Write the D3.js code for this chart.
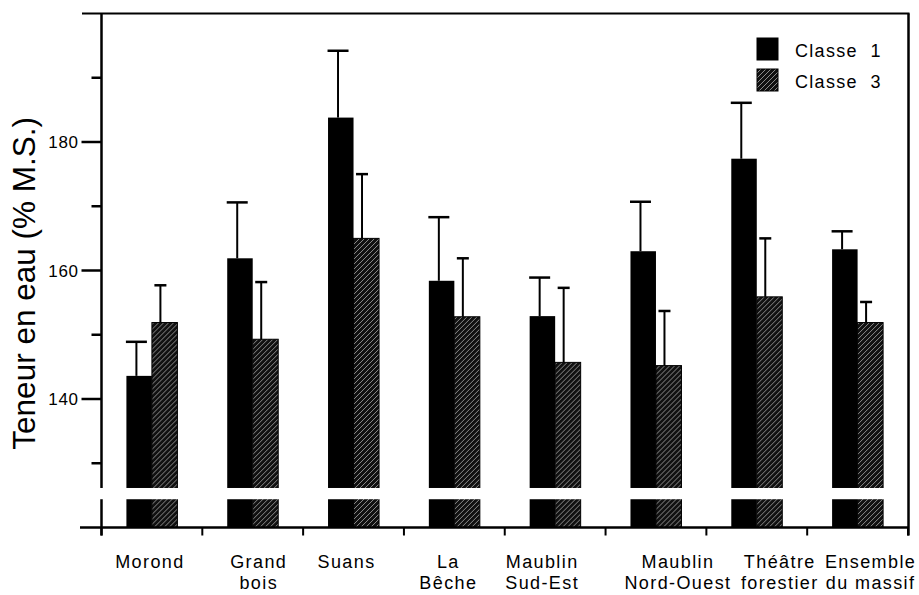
<!DOCTYPE html>
<html>
<head>
<meta charset="utf-8">
<script src="https://cdn.jsdelivr.net/npm/d3@7"></script>
<style>
  body { margin: 0; background: #fff; }
  svg { display: block; font-family: "Liberation Sans", Arial, sans-serif; }
</style>
</head>
<body>
<svg id="chart" width="919" height="595"></svg>
<script>
// values
const sites = ["Morond", "Grand bois", "Suans", "La Bêche", "Maublin Sud-Est",
  "Maublin Nord-Ouest", "Théâtre forestier", "Ensemble du massif"];
const siteLines = [["Morond"], ["Grand", "bois"], ["Suans"], ["La", "Bêche"],
  ["Maublin", "Sud-Est"], ["Maublin", "Nord-Ouest"], ["Théâtre", "forestier"], ["Ensemble", "du massif"]];
const classe1 = [143.6, 161.9, 183.8, 158.4, 152.9, 163.0, 177.4, 163.3];
const classe1Err = [5.3, 8.7, 10.4, 9.9, 6.0, 7.7, 8.7, 2.8];
const classe3 = [151.9, 149.3, 165.0, 152.8, 145.7, 145.2, 155.9, 151.9];
const classe3Err = [5.8, 8.9, 10.0, 9.1, 11.6, 8.5, 9.1, 3.2];
const majorTicks = [140, 160, 180];
const minorTicks = [130, 150, 170, 190];
const seriesNames = ["Classe\u00a0\u00a01", "Classe\u00a0\u00a03"];

(() => {
  const svg = d3.select("#chart");
  const left = 101.5, right = 908, top = 13.5, base = 527.5;

  // hatch pattern
  const defs = svg.append("defs");
  const pat = defs.append("pattern")
    .attr("id", "hatch")
    .attr("patternUnits", "userSpaceOnUse")
    .attr("width", 5).attr("height", 5);
  pat.append("rect").attr("width", 5).attr("height", 5).attr("fill", "#111");
  pat.append("path")
    .attr("d", "M-1,1 l2,-2 M0,5 l5,-5 M4,6 l2,-2")
    .attr("stroke", "#9a9a9a").attr("stroke-width", 0.9);

  const x = d3.scaleBand().domain(sites).range([left, right]).padding(0);
  const y = d3.scaleLinear().domain([120, 200]).range([base, top]);
  const bw = 25.5;

  const data = sites.map((s, i) => ({
    site: s,
    vals: [
      { k: 0, v: classe1[i], e: classe1Err[i] },
      { k: 1, v: classe3[i], e: classe3Err[i] }
    ]
  }));

  const groups = svg.append("g").selectAll("g")
    .data(data).enter().append("g")
    .attr("transform", d => `translate(${x(d.site) + x.bandwidth() / 2 - bw},0)`);

  groups.selectAll("rect")
    .data(d => d.vals).enter().append("rect")
    .attr("x", d => d.k * bw)
    .attr("y", d => y(d.v))
    .attr("width", bw)
    .attr("height", d => y(120) - y(d.v))
    .attr("fill", d => d.k === 0 ? "#000" : "url(#hatch)")
    .attr("stroke", "#000")
    .attr("stroke-width", d => d.k === 0 ? 0 : 1);

  // error bars (upper only)
  const errX = d => d.k * bw + (d.k === 0 ? 10 : 8.5);
  const capHalf = d => d.k === 0 ? 10.5 : 6;
  groups.selectAll("line.err")
    .data(d => d.vals).enter().append("line")
    .attr("class", "err")
    .attr("x1", errX).attr("x2", errX)
    .attr("y1", d => y(d.v)).attr("y2", d => y(d.v + d.e))
    .attr("stroke", "#000").attr("stroke-width", 2);
  groups.selectAll("line.cap")
    .data(d => d.vals).enter().append("line")
    .attr("class", "cap")
    .attr("x1", d => errX(d) - capHalf(d)).attr("x2", d => errX(d) + capHalf(d))
    .attr("y1", d => y(d.v + d.e)).attr("y2", d => y(d.v + d.e))
    .attr("stroke", "#000").attr("stroke-width", 2.5);

  // frame lines
  svg.append("line").attr("x1", 82).attr("x2", right + 1.5).attr("y1", top).attr("y2", top)
    .attr("stroke", "#000").attr("stroke-width", 2);
  svg.append("line").attr("x1", right + 0.5).attr("x2", right + 0.5).attr("y1", top).attr("y2", base + 8)
    .attr("stroke", "#000").attr("stroke-width", 2.5);

  // y axis
  const yAxis = svg.append("g").attr("transform", `translate(${left},0)`);
  yAxis.append("line").attr("y1", top).attr("y2", base + 8)
    .attr("stroke", "#000").attr("stroke-width", 2.5);
  yAxis.selectAll("line.maj").data(majorTicks).enter().append("line")
    .attr("x1", -20).attr("x2", 0)
    .attr("y1", d => y(d)).attr("y2", d => y(d))
    .attr("stroke", "#000").attr("stroke-width", 2.5);
  yAxis.selectAll("line.min").data(minorTicks).enter().append("line")
    .attr("x1", -10).attr("x2", 0)
    .attr("y1", d => y(d)).attr("y2", d => y(d))
    .attr("stroke", "#000").attr("stroke-width", 2.5);
  yAxis.selectAll("text").data(majorTicks).enter().append("text")
    .attr("x", -23).attr("y", d => y(d) + 6)
    .attr("text-anchor", "end")
    .style("font-size", "17px").style("letter-spacing", "0.6px")
    .text(d => d);

  // x axis
  svg.append("line").attr("x1", 80).attr("x2", right).attr("y1", base).attr("y2", base)
    .attr("stroke", "#000").attr("stroke-width", 2.5);
  svg.append("g").selectAll("line")
    .data(sites.map(s => x(s)).concat([right])).enter().append("line")
    .attr("x1", d => d).attr("x2", d => d)
    .attr("y1", base).attr("y2", base + 8)
    .attr("stroke", "#000").attr("stroke-width", 2);

  // axis break
  svg.append("rect").attr("x", 92).attr("y", y(126.15)).attr("width", 800)
    .attr("height", y(124.4) - y(126.15)).attr("fill", "#fff");

  // x labels
  const labelShift = [-2, 6, -7, -6, -13, 22, 23, 13];
  const lab = svg.append("g").selectAll("text")
    .data(sites).enter().append("text")
    .attr("text-anchor", "middle")
    .attr("transform", (d, i) => `translate(${x(d) + x.bandwidth() / 2 + labelShift[i]},568)`)
    .style("font-size", "18px").style("letter-spacing", "1.4px");
  lab.selectAll("tspan")
    .data((d, i) => siteLines[i]).enter().append("tspan")
    .attr("x", 0).attr("dy", (d, j) => j === 0 ? 0 : 20.5)
    .text(d => d);

  // y label
  svg.append("text")
    .attr("transform", `translate(35,${y(158)}) rotate(-90)`)
    .attr("text-anchor", "middle")
    .style("font-size", "31.5px")
    .text("Teneur en eau (% M.S.)");

  // legend
  const leg = svg.append("g").attr("transform", "translate(757,38)");
  leg.selectAll("rect").data(seriesNames).enter().append("rect")
    .attr("x", 0).attr("y", (d, i) => i * 31)
    .attr("width", 21).attr("height", 22)
    .attr("fill", (d, i) => i === 0 ? "#000" : "url(#hatch)")
    .attr("stroke", "#000").attr("stroke-width", 1);
  leg.selectAll("text").data(seriesNames).enter().append("text")
    .attr("x", 38).attr("y", (d, i) => i * 31 + 18.5)
    .style("font-size", "18px").style("letter-spacing", "1.3px")
    .text(d => d);
})();
</script>
</body>
</html>
